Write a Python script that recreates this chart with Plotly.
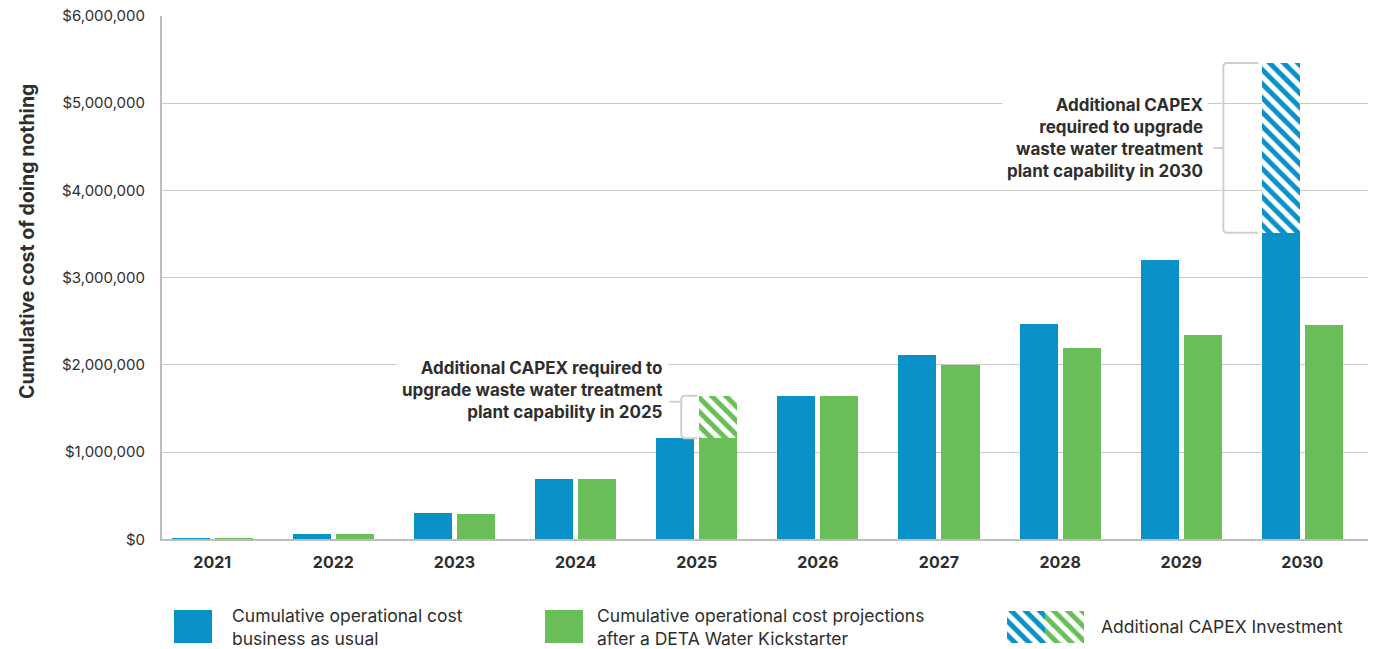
import plotly.graph_objects as go

# ---------------- data ----------------
years = ["2021", "2022", "2023", "2024", "2025", "2026", "2027", "2028", "2029", "2030"]
bau_cost = [18000, 64000, 305000, 690000, 1160000, 1645000, 2110000, 2465000, 3200000, 3515000]
deta_cost = [18000, 64000, 290000, 690000, 1160000, 1645000, 2000000, 2190000, 2340000, 2455000]
capex_bau_years = ["2030"]
capex_bau = [1945000]
capex_deta_years = ["2025"]
capex_deta = [485000]
y_ticks = [0, 1000000, 2000000, 3000000, 4000000, 5000000, 6000000]
y_tick_labels = ["$" + f"{v:,}" for v in y_ticks]

legend_labels = [
    "Cumulative operational cost<br>business as usual",
    "Cumulative operational cost projections<br>after a DETA Water Kickstarter",
    "Additional CAPEX Investment",
]
note_2025 = "Additional CAPEX required to<br>upgrade waste water treatment<br>plant capability in 2025"
note_2030 = "Additional CAPEX<br>required to upgrade<br>waste water treatment<br>plant capability in 2030"
y_title = "Cumulative cost of doing nothing"

# ---------------- style ----------------
BLUE = "#0A91C7"
GREEN = "#6ABE58"
TEXT = "#2E2E2E"
GRID = "#CBCBCB"
AXIS = "#BDBDBD"
FONT = "Inter"

W, H = 1376, 649
ML, MR, MT, MB = 162, 8, 16, 0
PW, PH = W - ML - MR, H - MT - MB
Y_BOTTOM_PX = 539.3  # pixel row of the value axis zero
ydom0 = (H - Y_BOTTOM_PX) / PH

UNIT = 121.1          # px per category
XR = [-0.415, 9.542]
BW = 38 / UNIT        # bar width
OFF_B = -40.5 / UNIT  # blue offset
OFF_G = 2.5 / UNIT    # green offset
YPX = (Y_BOTTOM_PX - MT) / 6e6  # px per value unit

idx = {y: i for i, y in enumerate(years)}
xs = list(range(len(years)))

fig = go.Figure()

fig.add_trace(go.Bar(x=xs, y=bau_cost, width=BW, offset=OFF_B,
                     marker=dict(color=BLUE, line=dict(width=0)), showlegend=False,
                     name="Cumulative operational cost business as usual"))
fig.add_trace(go.Bar(x=xs, y=deta_cost, width=BW, offset=OFF_G,
                     marker=dict(color=GREEN, line=dict(width=0)), showlegend=False,
                     name="Cumulative operational cost projections after a DETA Water Kickstarter"))

pat = lambda c: dict(shape="\\", fgcolor=c, bgcolor="white", size=10, solidity=0.5, fillmode="replace")

fig.add_trace(go.Bar(x=[idx[y] for y in capex_bau_years], y=capex_bau,
                     base=[bau_cost[idx[y]] for y in capex_bau_years],
                     width=BW, offset=OFF_B,
                     marker=dict(color="white", pattern=pat(BLUE), line=dict(width=0)),
                     showlegend=False, name="Additional CAPEX Investment"))
fig.add_trace(go.Bar(x=[idx[y] for y in capex_deta_years], y=capex_deta,
                     base=[deta_cost[idx[y]] for y in capex_deta_years],
                     width=BW, offset=OFF_G,
                     marker=dict(color="white", pattern=pat(GREEN), line=dict(width=0)),
                     showlegend=False, name="Additional CAPEX Investment"))

# ---------- legend swatches (aux axes in pixel units) ----------
sw_x = [193, 564, 1026, 1064.5]
sw_w = [38, 38, 38, 39]
fig.add_trace(go.Bar(x=sw_x[:1], y=[33], base=[6], width=sw_w[:1], xaxis="x2", yaxis="y2",
                     marker=dict(color=BLUE, line=dict(width=0)), showlegend=False, hoverinfo="skip"))
fig.add_trace(go.Bar(x=sw_x[1:2], y=[33], base=[6], width=sw_w[1:2], xaxis="x2", yaxis="y2",
                     marker=dict(color=GREEN, line=dict(width=0)), showlegend=False, hoverinfo="skip"))
fig.add_trace(go.Bar(x=sw_x[2:3], y=[32], base=[6], width=sw_w[2:3], xaxis="x2", yaxis="y2",
                     marker=dict(color="white", pattern=pat(BLUE), line=dict(width=0)),
                     showlegend=False, hoverinfo="skip"))
fig.add_trace(go.Bar(x=sw_x[3:4], y=[32], base=[6], width=sw_w[3:4], xaxis="x2", yaxis="y2",
                     marker=dict(color="white", pattern=pat(GREEN), line=dict(width=0)),
                     showlegend=False, hoverinfo="skip"))

# ---------------- brackets ----------------
def bracket(x_line, x_arm, y_top, y_bot, x_tick, y_tick, r=4):
    rx, ry = r / UNIT, r / YPX
    return (f"M {x_arm},{y_top} L {x_line+rx},{y_top} Q {x_line},{y_top} {x_line},{y_top-ry} "
            f"L {x_line},{y_bot+ry} Q {x_line},{y_bot} {x_line+rx},{y_bot} L {x_arm},{y_bot} "
            f"M {x_tick},{y_tick} L {x_line},{y_tick}")

shapes = []
annotations = []

# 2025 (green)
i25 = idx[capex_deta_years[0]]
left25 = i25 + OFF_G
bot25 = deta_cost[i25]
top25 = deta_cost[i25] + capex_deta[0]
xl25 = left25 - 18 / UNIT
shapes.append(dict(type="path", xref="x", yref="y", layer="above",
                   path=bracket(xl25, left25 - 2 / UNIT, top25, bot25, xl25 - 12 / UNIT, top25 - 6 / YPX),
                   line=dict(color="#CFCFCF", width=2)))
annotations.append(dict(x=xl25 - 12 / UNIT, y=top25 + 6 / YPX, xref="x", yref="y",
                        text=note_2025, showarrow=False, xanchor="right", yanchor="middle", align="right",
                        bgcolor="white", borderpad=5,
                        font=dict(family=FONT, size=17, color=TEXT, weight="bold")))

# 2030 (blue)
i30 = idx[capex_bau_years[0]]
left30 = i30 + OFF_B
bot30 = bau_cost[i30]
top30 = bau_cost[i30] + capex_bau[0]
xl30 = left30 - 38.5 / UNIT
mid30 = (top30 + bot30) / 2
shapes.append(dict(type="path", xref="x", yref="y", layer="above",
                   path=bracket(xl30, left30 - 3.5 / UNIT, top30, bot30, xl30 - 10 / UNIT, mid30),
                   line=dict(color="#CFCFCF", width=2)))
annotations.append(dict(x=xl30 - 15 / UNIT, y=mid30 + 10 / YPX, xref="x", yref="y",
                        text=note_2030, showarrow=False, xanchor="right", yanchor="middle", align="right",
                        bgcolor="white", borderpad=4,
                        font=dict(family=FONT, size=17, color=TEXT, weight="bold")))

# y title
annotations.append(dict(x=(27 - ML) / PW, y=(H - 242) / PH, xref="paper", yref="paper",
                        text=y_title, textangle=-90, showarrow=False, xanchor="center", yanchor="middle",
                        font=dict(family=FONT, size=19.5, color=TEXT, weight="bold")))

# legend texts
leg_pos = [(229.7, 627), (595.3, 627), (1098.7, 626.5)]
for (px, py), t in zip(leg_pos, legend_labels):
    annotations.append(dict(x=(px - ML) / PW, y=(H - py) / PH, xref="paper", yref="paper",
                            text=t, showarrow=False, xanchor="left", yanchor="middle", align="left",
                            font=dict(family=FONT, size=17.5, color=TEXT)))

boundaries = [XR[0]] + [i + 0.593 for i in range(len(years) - 1)]

fig.update_layout(
    width=W, height=H, autosize=False,
    margin=dict(l=ML, r=MR, t=MT, b=MB, pad=0, autoexpand=False),
    paper_bgcolor="white", plot_bgcolor="white",
    barmode="overlay",
    bargap=0,
    font=dict(family=FONT, color=TEXT),
    shapes=shapes, annotations=annotations,
    xaxis=dict(range=XR, tickmode="array", tickvals=xs, ticktext=years,
               showgrid=False, zeroline=False, showline=True, linecolor=AXIS, linewidth=2,
               ticks="", ticklabelstandoff=7, automargin=False,
               tickfont=dict(family=FONT, size=16, color=TEXT, weight="bold"),
               anchor="y", fixedrange=True),
    xaxis3=dict(range=XR, overlaying="x", anchor="y", side="bottom", tickmode="array",
                tickvals=boundaries, ticks="outside", ticklen=6, tickwidth=1.5, tickcolor=AXIS,
                showticklabels=False, showgrid=False, zeroline=False, showline=False, automargin=False),
    yaxis=dict(domain=[ydom0, 1], range=[0, 6e6], tickmode="array", tickvals=y_ticks,
               ticktext=y_tick_labels, showgrid=True, gridcolor=GRID, gridwidth=1,
               zeroline=False, showline=True, linecolor=AXIS, linewidth=2, ticks="",
               ticklabelstandoff=12, automargin=False, tickfont=dict(family=FONT, size=15, color=TEXT),
               fixedrange=True),
    xaxis2=dict(domain=[0, 1], range=[ML, W - MR], visible=False, anchor="y2", fixedrange=True,
                automargin=False),
    yaxis2=dict(domain=[0, ydom0], range=[0, H - Y_BOTTOM_PX], visible=False, anchor="x2",
                fixedrange=True, automargin=False),
)

fig.write_html("out.html", config={"displayModeBar": False},
               post_script="document.body.style.margin='0';document.body.style.overflow='hidden';")
